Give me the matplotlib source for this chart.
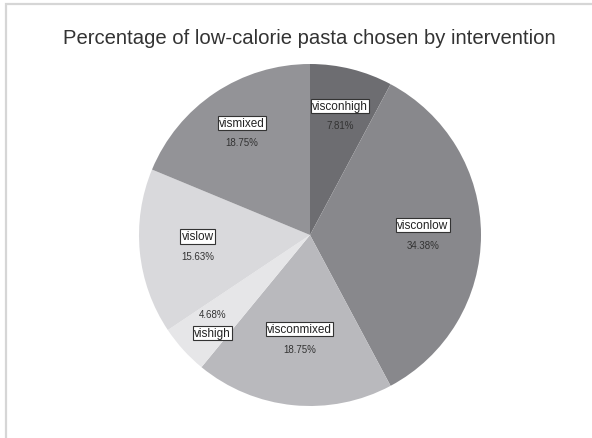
import numpy as np
import matplotlib.pyplot as plt
from matplotlib.patches import Rectangle

plt.rcParams['font.family'] = ['Liberation Sans', 'DejaVu Sans']

# share of low-calorie pasta per intervention (clockwise from 12 o'clock)
groups = ['visconhigh', 'visconlow', 'visconmixed', 'vishigh', 'vislow', 'vismixed']
shares = [7.81, 34.38, 18.75, 4.68, 15.63, 18.75]
colors = ['#6d6d71', '#88888c', '#b9b9bd', '#e6e6e8', '#d9d9dc', '#939397']

# where the label pair sits along the slice radius
label_r = [0.72, 0.66, 0.61, 0.77, 0.66, 0.72]

W, H = 592, 439
fig = plt.figure(figsize=(W / 100, H / 100), dpi=100)
fig.patch.set_facecolor('white')

# light grey frame around the chart area
fig.patches.append(Rectangle((6 / W, -0.1), 1.2, (H - 5) / H + 0.1,
                             transform=fig.transFigure, fill=False,
                             edgecolor='#d6d6d6', linewidth=1.6))

fig.text(309 / W, 1 - 38 / H,
         'Percentage of low-calorie pasta chosen by intervention',
         ha='center', va='center', fontsize=14.6, color='#333333')

cx, cy, r = 310, 236, 171
ax = fig.add_axes([(cx - r) / W, (H - cy - r) / H, 2 * r / W, 2 * r / H])
wedges, _ = ax.pie(shares, colors=colors, startangle=90, counterclock=False,
                   radius=1, wedgeprops=dict(linewidth=0))
ax.set_xlim(-1, 1)
ax.set_ylim(-1, 1)
ax.set_aspect('equal')
ax.axis('off')

for w, name, val, lr in zip(wedges, groups, shares, label_r):
    ang = np.deg2rad((w.theta1 + w.theta2) / 2)
    x, y = lr * np.cos(ang), lr * np.sin(ang)
    # the tiny slice shows its value above the name
    flip = -1 if name == 'vishigh' else 1
    ax.annotate(name, (x, y), xytext=(0, 7 * flip), textcoords='offset points',
                ha='center', va='center', fontsize=8.5, color='#222222',
                bbox=dict(boxstyle='square,pad=0.1', fc='white', ec='#333333', lw=0.8))
    ax.annotate(f'{val:.2f}%', (x, y), xytext=(0, -7 * flip), textcoords='offset points',
                ha='center', va='center', fontsize=7, color='#333333')

fig.savefig('out.png', dpi=100)
